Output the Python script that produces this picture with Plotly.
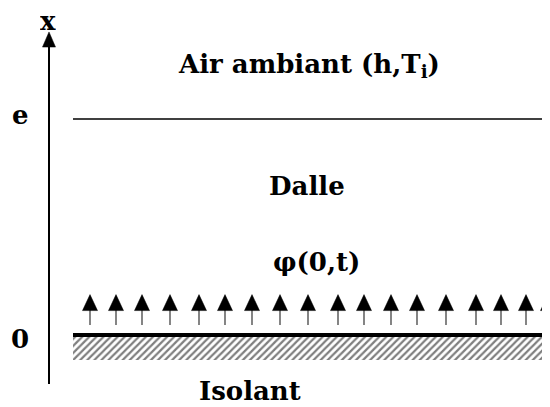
import plotly.graph_objects as go

# ---- data (diagram content) ----
levels = [0.0, 1.0]                 # physical positions x = 0 and x = e
level_labels = ["0", "e"]
flux_x = [90, 116, 142, 170, 199, 225, 252, 280, 308, 338, 364, 391,
          417, 446, 476, 501, 526, 548]   # positions of flux arrows
region_labels = ["Air ambiant (h,T<sub>i</sub>)", "Dalle", "φ(0,t)", "Isolant"]
region_y = [1.25, 0.69, 0.34, -0.26]
region_x = [309, 307, 316, 250]
axis_label = "x"

# ---- geometry helpers (scale of the drawing) ----
X0, X1 = 73, 552          # slab horizontal extent
AX = 49                   # x-position of the vertical axis
BLACK = "#000000"
OFF = 8                   # page body margin
FONT = "DejaVu Serif"

fig = go.Figure()

hy0, hy1 = -0.009, -0.116
fig.add_trace(go.Scatter(
    x=[X0, X1, X1, X0, X0], y=[hy0, hy0, hy1, hy1, hy0],
    mode="lines", fill="toself", line=dict(width=0, color="rgba(0,0,0,0)"),
    fillcolor="white",
    fillpattern=dict(shape="/", fgcolor=BLACK, bgcolor="white", size=5, solidity=0.45),
    hoverinfo="skip"))

shaft_lo, shaft_hi = 0.046, 0.116
sx, sy = [], []
for xv in flux_x:
    sx += [xv, xv, None]
    sy += [shaft_lo, shaft_hi, None]
fig.add_trace(go.Scatter(x=sx, y=sy, mode="lines",
                         line=dict(color="#333333", width=1.2), hoverinfo="skip"))

head_lo, head_hi, hw = 0.113, 0.187, 7.5
tx, ty = [], []
for xv in flux_x:
    tx += [xv - hw, xv + hw, xv, xv - hw, None]
    ty += [head_lo, head_lo, head_hi, head_lo, None]
fig.add_trace(go.Scatter(x=tx, y=ty, mode="lines", fill="toself",
                         fillcolor=BLACK, line=dict(color=BLACK, width=0.5),
                         hoverinfo="skip"))

ax_lo, ax_hi, ax_tip = -0.227, 1.335, 1.403
fig.add_trace(go.Scatter(x=[AX, AX], y=[ax_lo, ax_hi], mode="lines",
                         line=dict(color=BLACK, width=2), hoverinfo="skip"))
fig.add_trace(go.Scatter(x=[AX - 6.5, AX + 6.5, AX, AX - 6.5],
                         y=[1.333, 1.333, ax_tip, 1.333], mode="lines",
                         fill="toself", fillcolor=BLACK,
                         line=dict(color=BLACK, width=0.5), hoverinfo="skip"))

fig.add_trace(go.Scatter(x=[X0, X1], y=[levels[1], levels[1]], mode="lines",
                         line=dict(color=BLACK, width=1.6), hoverinfo="skip"))
fig.add_trace(go.Scatter(x=[X0, X1], y=[levels[0], levels[0]], mode="lines",
                         line=dict(color=BLACK, width=4), hoverinfo="skip"))

font = dict(family=FONT, size=26, color=BLACK)
for lab, lv, dy in zip(level_labels, levels, [-0.02, 0.02]):
    fig.add_annotation(x=20, y=lv + dy, text=f"<b>{lab}</b>", showarrow=False,
                       font=font, xanchor="center", yanchor="middle")
fig.add_annotation(x=48, y=1.455, text=f"<b>{axis_label}</b>", showarrow=False,
                   font=font, xanchor="center", yanchor="middle", height=22)
for lab, xv, yv in zip(region_labels, region_x, region_y):
    fig.add_annotation(x=xv, y=yv, text=f"<b>{lab}</b>", showarrow=False,
                       font=font, xanchor="center", yanchor="middle",
                       height=26 if lab == "Isolant" else None)

fig.update_layout(
    width=550 - OFF, height=407 - OFF, margin=dict(l=0, r=0, t=0, b=0),
    paper_bgcolor="white", plot_bgcolor="white", showlegend=False,
    xaxis=dict(range=[OFF, 550], visible=False, fixedrange=True),
    yaxis=dict(range=[-72 / 216, (335 - OFF) / 216], visible=False, fixedrange=True),
)

fig.write_html("out.html")
